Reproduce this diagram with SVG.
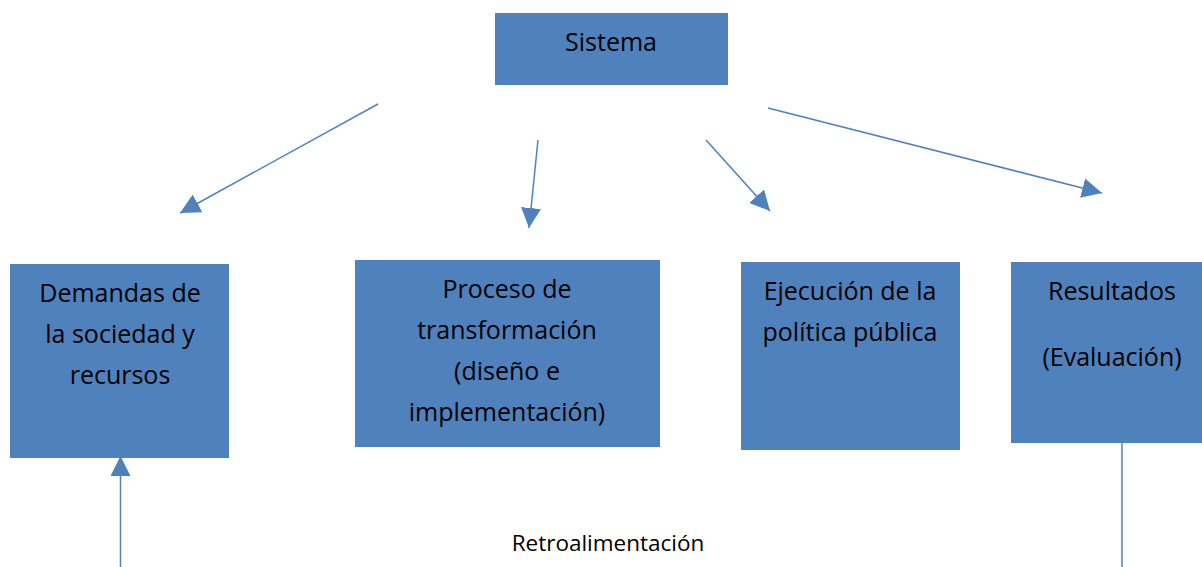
<svg xmlns="http://www.w3.org/2000/svg" width="1202" height="567" viewBox="0 0 1202 567">
<style>
.box{fill:#4F81BD;}
.t{font-family:"Open Sans","Liberation Sans",sans-serif;font-size:25px;fill:#000;text-anchor:middle;}
.c{stroke:#4F81BD;stroke-width:1.5;fill:none;}
.lbl{font-family:"Open Sans","Liberation Sans",sans-serif;font-size:22.5px;fill:#000;text-anchor:middle;}
</style>
<defs>
<marker id="ah2" viewBox="0 0 10 10" refX="10" refY="5" markerWidth="20" markerHeight="20" markerUnits="userSpaceOnUse" orient="auto">
<path d="M0,0 L10,5 L0,10 Z" fill="#4F81BD"/>
</marker>
</defs>
<rect width="1202" height="567" fill="#fff"/>
<g id="sistema"><rect class="box" x="495" y="13" width="233" height="72"/><text class="t" x="611" y="51">Sistema</text></g>
<g id="demandas"><rect class="box" x="10" y="264" width="219" height="194"/>
<text class="t" x="120" y="302">Demandas de</text><text class="t" x="120" y="343">la sociedad y</text><text class="t" x="120" y="384">recursos</text></g>
<g id="proceso"><rect class="box" x="355" y="260" width="305" height="187"/>
<text class="t" x="507" y="298">Proceso de</text><text class="t" x="507" y="339">transformación</text><text class="t" x="507" y="380">(diseño e</text><text class="t" x="507" y="421">implementación)</text></g>
<g id="ejecucion"><rect class="box" x="741" y="262" width="219" height="188"/>
<text class="t" x="850" y="300">Ejecución de la</text><text class="t" x="850" y="341">política pública</text></g>
<g id="resultados"><rect class="box" x="1011" y="262" width="191" height="181"/>
<text class="t" x="1112" y="300">Resultados</text><text class="t" x="1112" y="366">(Evaluación)</text></g>
<g id="connectors">
<line class="c" x1="378" y1="104" x2="180" y2="213" marker-end="url(#ah2)"/>
<line class="c" x1="538" y1="140" x2="529" y2="228" marker-end="url(#ah2)"/>
<line class="c" x1="706" y1="140" x2="770" y2="211" marker-end="url(#ah2)"/>
<line class="c" x1="768" y1="108" x2="1102" y2="193" marker-end="url(#ah2)"/>
<line class="c" x1="120.5" y1="567" x2="120.5" y2="456" marker-end="url(#ah2)"/>
<line class="c" x1="1122" y1="443" x2="1122" y2="567"/>
</g>
<text class="lbl" x="608" y="551">Retroalimentación</text>
</svg>
